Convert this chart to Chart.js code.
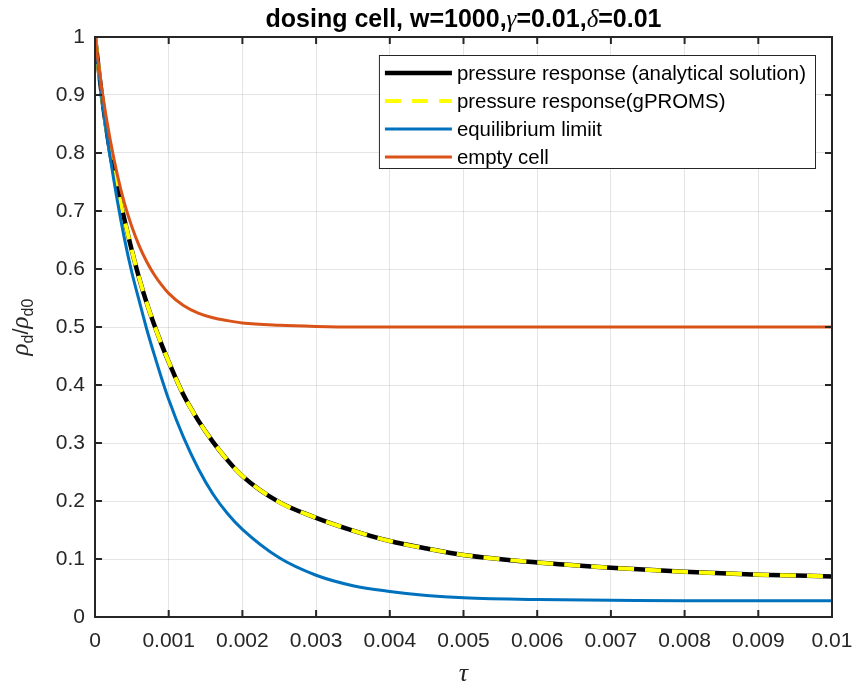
<!DOCTYPE html>
<html lang="en">
<head>
  <meta charset="UTF-8">
  <title>dosing cell, w=1000</title>
  <script src="https://cdn.jsdelivr.net/npm/chart.js"></script>
  <style>
    body {
      margin: 0;
      background: #fff;
    }
    .chart-container {
      position: relative;
      width: 857px;
      height: 691px;
    }
  </style>
</head>
<body>
  <div class="chart-container">
    <canvas id="chart"></canvas>
  </div>

  <script>
    const tau = [0, 0.0001, 0.0002, 0.0003, 0.0004, 0.0005, 0.0006, 0.0007, 0.0008, 0.0009, 0.001,
                 0.0012, 0.0014, 0.0016, 0.0018, 0.002, 0.0025, 0.003, 0.0035, 0.004, 0.0045, 0.005,
                 0.006, 0.007, 0.008, 0.009, 0.01];

    const analytical = [1, 0.892, 0.806, 0.742, 0.685, 0.632, 0.584, 0.542, 0.505, 0.471, 0.440,
                        0.383, 0.339, 0.302, 0.270, 0.243, 0.198, 0.171, 0.149, 0.131, 0.118, 0.107,
                        0.094, 0.085, 0.078, 0.073, 0.070];
    const gproms = [1, 0.892, 0.806, 0.742, 0.685, 0.632, 0.584, 0.542, 0.505, 0.471, 0.440,
                    0.383, 0.339, 0.302, 0.270, 0.243, 0.198, 0.171, 0.149, 0.131, 0.118, 0.107,
                    0.094, 0.085, 0.078, 0.073, 0.070];
    const equilibrium = [1, 0.887, 0.798, 0.72, 0.652, 0.594, 0.545, 0.497, 0.454, 0.413, 0.375,
                         0.31, 0.256, 0.212, 0.178, 0.151, 0.102, 0.072, 0.054, 0.044, 0.037, 0.033,
                         0.030, 0.029, 0.028, 0.028, 0.028];
    const emptyCell = [1, 0.904, 0.827, 0.764, 0.713, 0.673, 0.640, 0.613, 0.591, 0.573, 0.558,
                       0.537, 0.524, 0.516, 0.511, 0.507, 0.503, 0.501, 0.5, 0.5, 0.5, 0.5,
                       0.5, 0.5, 0.5, 0.5, 0.5];

    const seriesLabels = ['pressure response (analytical solution)', 'pressure response(gPROMS)',
                          'equilibrium limiit', 'empty cell'];

    const xTicks = [0, 0.001, 0.002, 0.003, 0.004, 0.005, 0.006, 0.007, 0.008, 0.009, 0.01];
    const xTickLabels = ['0', '0.001', '0.002', '0.003', '0.004', '0.005', '0.006', '0.007', '0.008', '0.009', '0.01'];
    const yTicks = [0, 0.1, 0.2, 0.3, 0.4, 0.5, 0.6, 0.7, 0.8, 0.9, 1];
    const yTickLabels = ['0', '0.1', '0.2', '0.3', '0.4', '0.5', '0.6', '0.7', '0.8', '0.9', '1'];

    const SANS = '"Liberation Sans", Arial, sans-serif';
    const SERIF = '"Liberation Serif", "Times New Roman", serif';
    const AXIS = '#262626';

    const pts = (ys) => tau.map((t, i) => ({ x: t, y: ys[i] }));

    // draws a run of text pieces with different fonts, centred on x
    function drawRich(ctx, segs, x, y) {
      let total = 0;
      segs.forEach(s => { ctx.font = s.font; s.w = ctx.measureText(s.t).width; total += s.w; });
      let cx = x - total / 2;
      segs.forEach(s => {
        ctx.font = s.font;
        ctx.fillText(s.t, cx, y + (s.dy || 0));
        cx += s.w;
      });
    }

    const decor = {
      id: 'decor',
      afterDraw(chart) {
        const ctx = chart.ctx, a = chart.chartArea;
        const xs = chart.scales.x, ys = chart.scales.y;
        ctx.save();

        // box with inward ticks on all four sides
        ctx.strokeStyle = AXIS;
        ctx.lineWidth = 2;
        ctx.strokeRect(a.left, a.top, a.right - a.left, a.bottom - a.top);
        ctx.beginPath();
        xTicks.forEach(v => {
          const px = xs.getPixelForValue(v);
          ctx.moveTo(px, a.bottom); ctx.lineTo(px, a.bottom - 7);
          ctx.moveTo(px, a.top); ctx.lineTo(px, a.top + 7);
        });
        yTicks.forEach(v => {
          const py = ys.getPixelForValue(v);
          ctx.moveTo(a.left, py); ctx.lineTo(a.left + 7, py);
          ctx.moveTo(a.right, py); ctx.lineTo(a.right - 7, py);
        });
        ctx.stroke();

        // title
        ctx.fillStyle = '#000';
        ctx.textBaseline = 'alphabetic';
        const bold = 'bold 25px ' + SANS, greek = 'italic 25px ' + SERIF;
        drawRich(ctx, [
          { t: 'dosing cell, w=1000,', font: bold },
          { t: 'γ', font: greek },
          { t: '=0.01,', font: bold },
          { t: 'δ', font: greek },
          { t: '=0.01', font: bold }
        ], (a.left + a.right) / 2, 27);

        // x axis label
        ctx.fillStyle = AXIS;
        ctx.font = 'italic 26px ' + SERIF;
        ctx.textAlign = 'center';
        ctx.fillText('τ', (a.left + a.right) / 2, 681);
        ctx.textAlign = 'left';

        // y axis label, rotated
        ctx.save();
        ctx.translate(28, (a.top + a.bottom) / 2);
        ctx.rotate(-Math.PI / 2);
        const rho = 'italic 25px ' + SERIF, sub = '16px ' + SANS;
        drawRich(ctx, [
          { t: 'ρ', font: rho },
          { t: 'd', font: sub, dy: 5 },
          { t: '/', font: '22px ' + SANS },
          { t: 'ρ', font: rho },
          { t: 'd0', font: sub, dy: 5 }
        ], 0, 0);
        ctx.restore();

        // legend box in the upper right
        ctx.font = '20.4px ' + SANS;
        const labels = chart.data.datasets.map(d => d.label);
        const textW = Math.max(...labels.map(l => ctx.measureText(l).width));
        const sampleW = 67, rowH = 28;
        const w = 6 + sampleW + 5 + textW + 9, h = 113;
        const x1 = a.right - 17, x0 = x1 - w, y0 = a.top + 18;
        ctx.fillStyle = '#fff';
        ctx.fillRect(x0, y0, w, h);
        ctx.strokeStyle = AXIS;
        ctx.lineWidth = 1;
        ctx.strokeRect(x0 + 0.5, y0 + 0.5, w, h);
        ctx.textBaseline = 'middle';
        chart.data.datasets.forEach((d, i) => {
          const ry = y0 + 18 + i * rowH;
          ctx.strokeStyle = d.borderColor;
          ctx.lineWidth = d.borderWidth;
          ctx.setLineDash(d.borderDash || []);
          ctx.beginPath();
          ctx.moveTo(x0 + 6, ry);
          ctx.lineTo(x0 + 6 + sampleW, ry);
          ctx.stroke();
          ctx.setLineDash([]);
          ctx.fillStyle = '#000';
          ctx.fillText(d.label, x0 + 6 + sampleW + 5, ry + 1);
        });
        ctx.restore();
      }
    };

    const line = (label, ys, color, width, order, dash) => ({
      label: label,
      data: pts(ys),
      borderColor: color,
      backgroundColor: color,
      borderWidth: width,
      borderDash: dash,
      pointRadius: 0,
      fill: false,
      cubicInterpolationMode: 'monotone',
      order: order
    });

    new Chart(document.getElementById('chart').getContext('2d'), {
      type: 'line',
      data: {
        datasets: [
          line(seriesLabels[0], analytical, '#000000', 4.5, 4),
          line(seriesLabels[1], gproms, '#FFFF00', 4, 3, [16, 11]),
          line(seriesLabels[2], equilibrium, '#0072BD', 3, 2),
          line(seriesLabels[3], emptyCell, '#D95319', 3, 1)
        ]
      },
      options: {
        responsive: true,
        maintainAspectRatio: false,
        animation: false,
        layout: { padding: { left: 0, right: 25, top: 37, bottom: 0 } },
        plugins: {
          legend: { display: false },
          tooltip: { enabled: false }
        },
        scales: {
          x: {
            type: 'linear',
            min: 0,
            max: 0.01,
            afterBuildTicks: s => { s.ticks = xTicks.map(v => ({ value: v })); },
            afterFit: s => { s.height = 74; s.paddingLeft = 0; s.paddingRight = 0; },
            grid: { color: 'rgba(38,38,38,0.12)', drawTicks: false },
            border: { display: false },
            ticks: {
              autoSkip: false,
              maxRotation: 0,
              padding: 12,
              color: AXIS,
              font: { family: SANS, size: 21 },
              callback: (v, i) => xTickLabels[i]
            }
          },
          y: {
            type: 'linear',
            min: 0,
            max: 1,
            afterBuildTicks: s => { s.ticks = yTicks.map(v => ({ value: v })); },
            afterFit: s => { s.width = 95; s.paddingTop = 0; s.paddingBottom = 0; },
            grid: { color: 'rgba(38,38,38,0.12)', drawTicks: false },
            border: { display: false },
            ticks: {
              padding: 10,
              color: AXIS,
              font: { family: SANS, size: 21 },
              callback: (v, i) => yTickLabels[i]
            }
          }
        }
      },
      plugins: [decor]
    });
  </script>
</body>
</html>
